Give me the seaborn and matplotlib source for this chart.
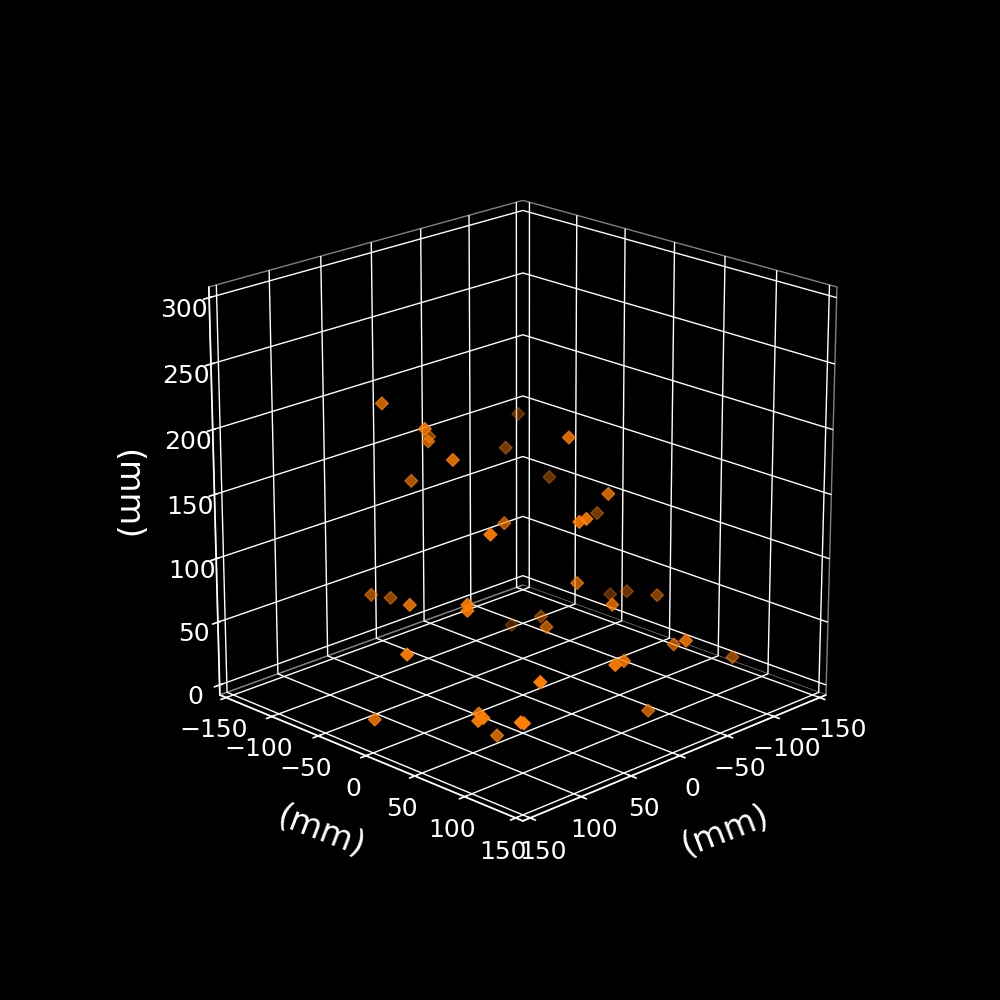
import matplotlib
matplotlib.use('Agg')
import seaborn as sns
import matplotlib.pyplot as plt

# marker positions (mm)
x_mm = [77, 74, 3, 46, 65, 48, -104,
        -63, -95, 3, 8, 87, 75, 52,
        112, 97, 98, 149, 149, 96, 125,
        122, 79, 117, 102, -76, -51, 5,
        -21, -99, 27, 23, -4, -120, -115,
        -101, -4, -57, -20, -114, 48, 14,
        -18, 119]
y_mm = [-65, -24, -94, -50, -5, -66, -109,
        -81, -67, 49, -11, 55, -81, -85,
        -1, 42, 43, 35, 1, 52, 81,
        83, 53, 118, 119, -88, -32, 29,
        65, -21, 83, 86, 51, -27, -5,
        39, 86, 97, 143, 103, 139, 115,
        109, 117]
z_mm = [223, 213, 172, 190, 192, 156, 160,
        150, 122, 207, 127, 157, 70, 60,
        95, 103, 99, 78, 18, 22, 34,
        36, 0, 41, 68, 1, 31, 56,
        162, 104, 158, 160, 94, 31, 41,
        54, 87, 44, 71, 19, 71, 57,
        7, 42]
ticks_xy = [-150, -100, -50, 0, 50, 100, 150]
ticks_z = [0, 50, 100, 150, 200, 250, 300]

sns.set_theme(style='dark')
plt.style.use('dark_background')
fig = plt.figure(figsize=(10, 10), dpi=100)
ax = fig.add_subplot(projection='3d')
ax.scatter(x_mm, y_mm, z_mm, marker='D', s=42, c='#ff7f00')
ax.set_xlim(-157, 157)
ax.set_ylim(-157, 157)
ax.set_zlim(-8, 308)
ax.set_box_aspect((1, 1, 0.995), zoom=0.951)
ax.view_init(elev=20, azim=45)
ax.set_xticks(ticks_xy)
ax.set_yticks(ticks_xy)
ax.set_zticks(ticks_z)
for a in (ax.xaxis, ax.yaxis, ax.zaxis):
    a.set_rotate_label(False)
    a.set_pane_color((0, 0, 0, 1))
    a.pane.set_edgecolor('gray')
    a._axinfo['grid']['color'] = 'white'
ax.set_xlabel('(mm)', fontsize=24, labelpad=20, rotation=21)
ax.set_ylabel('(mm)', fontsize=24, labelpad=20, rotation=-21)
ax.set_zlabel('(mm)', fontsize=24, labelpad=20, rotation=-90)
ax.tick_params(labelsize=18)
fig.savefig('out.png', dpi=100)
